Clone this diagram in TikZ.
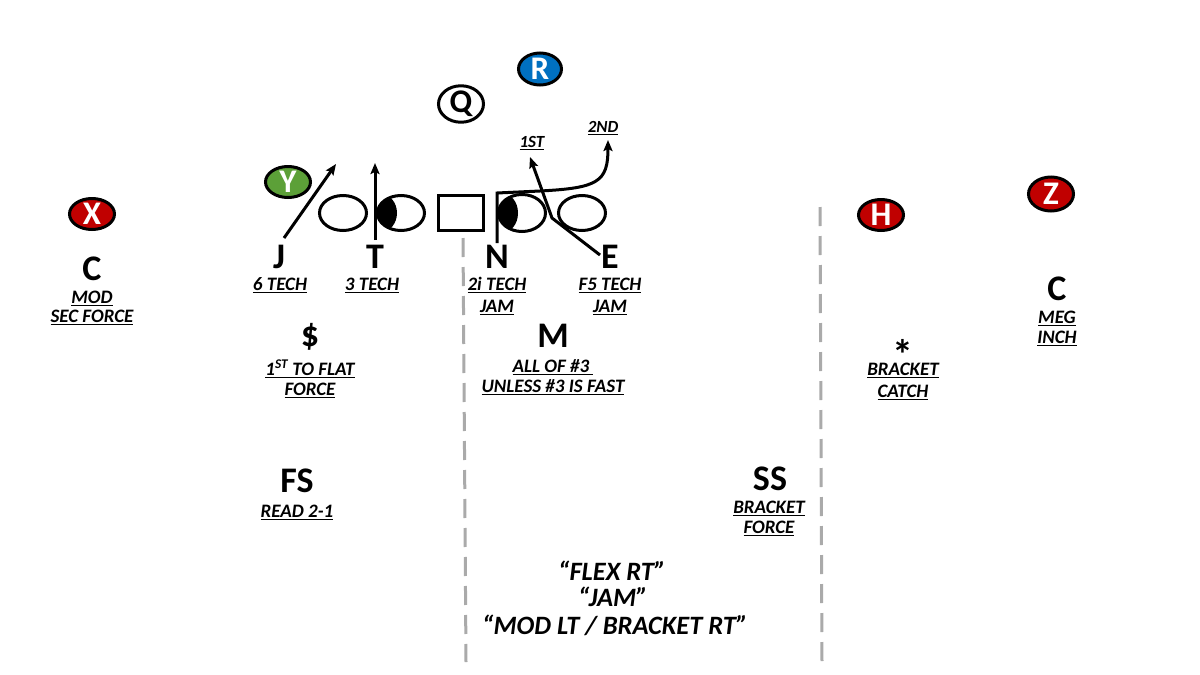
\documentclass[tikz,border=0pt]{standalone}
\usepackage{fontspec}
\setmainfont{Carlito}
\usetikzlibrary{shapes.geometric,arrows.meta}
\definecolor{pred}{RGB}{192,0,0}
\definecolor{pgreen}{RGB}{92,160,56}
\definecolor{pblue}{RGB}{0,112,192}
\definecolor{dgray}{RGB}{170,170,170}
\newcommand{\ulin}[1]{\setbox0=\hbox{#1}\rlap{\rule[-3.4pt]{\wd0}{1.8pt}}\box0}
\begin{document}
\begin{tikzpicture}[x=1pt,y=-1pt,
  player/.style={ellipse, draw=black, line width=3pt, minimum width=45pt, minimum height=31pt, inner sep=0pt, text=white, font=\fontsize{33}{33}\selectfont\bfseries},
  oline/.style={ellipse, draw=black, line width=3pt, minimum width=47pt, minimum height=35pt, inner sep=0pt},
  big/.style={font=\fontsize{36}{36}\selectfont\bfseries, anchor=base, inner sep=0pt},
  lbl/.style={font=\fontsize{19}{19}\selectfont\bfseries\itshape, anchor=base, inner sep=0pt},
  small/.style={font=\fontsize{17}{17}\selectfont\bfseries\itshape, anchor=base, inner sep=0pt},
  callout/.style={font=\fontsize{26.5}{26.5}\selectfont\bfseries\itshape, anchor=base, inner sep=0pt},
  route/.style={line width=3pt, -{Stealth[length=11pt,width=9pt,inset=2pt]}},
  divline/.style={draw=dgray, line width=3pt, dash pattern=on 19pt off 10pt}
]
\fill[white] (0,0) rectangle (1200,675);
\useasboundingbox (0,0) rectangle (1200,675);

% dashed dividers
\coordinate (d1t) at (463,238); \coordinate (d1b) at (466,662);
\coordinate (d2t) at (820,207); \coordinate (d2b) at (822,662);
\draw[divline] (d1t) -- (d1b);
\draw[divline] (d2t) -- (d2b);

% offense skill players
\node[player, fill=pred] (X) at (92,214) {X};
\node[player, fill=pgreen] (Y) at (288,182) {Y};
\node[player, fill=white, text=black, minimum width=45pt, minimum height=35pt] (Q) at (461,104) {Q};
\node[player, fill=pblue, minimum width=43pt, minimum height=32pt] (R) at (540,69) {R};
\node[player, fill=pred] (H) at (881,215) {H};
\node[player, fill=pred, minimum height=34pt] (Z) at (1051,194) {Z};

% offensive line with shaded techniques
\begin{scope}
  \clip (401,213) ellipse [x radius=23.5pt, y radius=17.5pt];
  \fill (381,213) ellipse [x radius=16pt, y radius=19pt];
\end{scope}
\begin{scope}
  \clip (522,213) ellipse [x radius=23.5pt, y radius=18.5pt];
  \fill (502,213) ellipse [x radius=16pt, y radius=20pt];
\end{scope}
\node[oline] (o1) at (343,213) {};
\node[oline] (o2) at (401,213) {};
\node[draw=black, line width=3pt, minimum width=45pt, minimum height=35pt, inner sep=0pt] (ctr) at (461,213) {};
\node[oline, minimum height=37pt] (o3) at (522,213) {};
\node[oline] (o4) at (582,213) {};

% defensive line
\node[big] (J) at (279,268) {J};
\node[big] (T) at (375,268) {T};
\node[big] (N) at (497,268) {N};
\node[big] (E) at (610,268) {E};
\node[lbl] (Jl) at (280,290) {\ulin{6 TECH}};
\node[lbl] (Tl) at (372,290) {\ulin{3 TECH}};
\node[lbl] (Nl1) at (497,290) {\ulin{2i TECH}};
\node[lbl] (Nl2) at (497,312) {\ulin{JAM}};
\node[lbl] (El1) at (610,290) {\ulin{F5 TECH}};
\node[lbl] (El2) at (610,312) {\ulin{JAM}};

% routes of defensive line
\coordinate (js) at (284,238); \coordinate (je) at (336,164);
\coordinate (ts) at (375,240); \coordinate (te) at (375,163);
\coordinate (ns) at (497,243); \coordinate (nc) at (497,193); \coordinate (ne) at (608,140);
\coordinate (es) at (600,255); \coordinate (eb) at (552,218); \coordinate (ee) at (530,157);
\draw[route] (js) -- (je);
\draw[route] (ts) -- (te);
\draw[route, line join=miter] (ns) -- (nc) -- (540,191) .. controls (598,188) and (608,182) .. (ne);
\draw[route, line join=round] (es) -- (eb) -- (ee);
\node[small] (first) at (532,147) {\ulin{1ST}};
\node[small] (second) at (603,132) {\ulin{2ND}};

% left corner
\node[big] (Cl) at (92,280) {C};
\node[lbl] (Cl1) at (92,303) {\ulin{MOD}};
\node[lbl] (Cl2) at (92,322) {\ulin{SEC FORCE}};

% money
\node[big] (S) at (310,346) {\$};
\node[lbl] (S1) at (310,375) {\ulin{1\textsuperscript{ST} TO FLAT}};
\node[lbl] (S2) at (310,395) {\ulin{FORCE}};

% mike
\node[big] (M) at (553,347) {M};
\node[lbl] (M1) at (553,372) {\ulin{ALL OF \#3 }};
\node[lbl] (M2) at (553,392) {\ulin{UNLESS \#3 IS FAST}};

% star
\node[big, font=\fontsize{42}{42}\selectfont\bfseries] (St) at (903,356) {\raisebox{-13.5pt}[15pt][0pt]{*}};
\node[lbl] (St1) at (903,375) {\ulin{BRACKET}};
\node[lbl] (St2) at (903,397) {\ulin{CATCH}};

% right corner
\node[big] (Cr) at (1057,300) {C};
\node[lbl] (Cr1) at (1057,323) {\ulin{MEG}};
\node[lbl] (Cr2) at (1057,343) {\ulin{INCH}};

% safeties
\node[big] (FS) at (297,492) {FS};
\node[lbl] (FS1) at (297,517) {\ulin{READ 2-1}};
\node[big] (SS) at (770,490) {SS};
\node[lbl] (SS1) at (769,513) {\ulin{BRACKET}};
\node[lbl] (SS2) at (769,533) {\ulin{FORCE}};

% calls
\node[callout] (c1) at (612,580) {“FLEX RT”};
\node[callout] (c2) at (613,606) {“JAM”};
\node[callout] (c3) at (615,634) {“MOD LT / BRACKET RT”};
\end{tikzpicture}
\end{document}
